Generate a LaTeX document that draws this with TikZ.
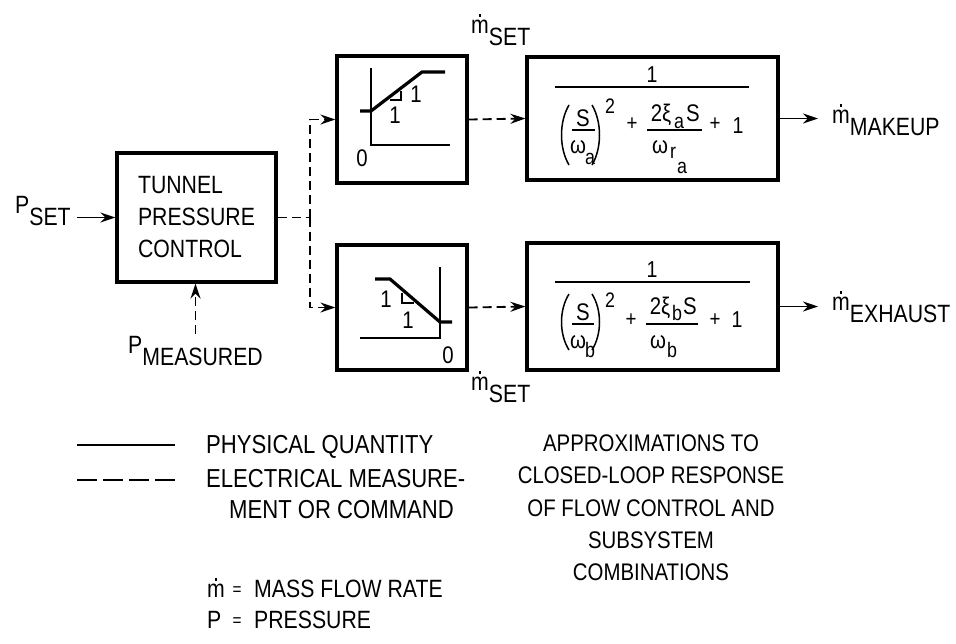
\documentclass[tikz,border=0pt]{standalone}
\usepackage{fontspec}
\setmainfont{Liberation Sans}[FakeStretch=0.85]
\usetikzlibrary{arrows.meta}
\newcommand\lowr[1]{\raisebox{-0.5em}{#1}}
\newcommand\mdot{\ooalign{m\cr\hfil\raisebox{0.64em}{\rule{0.11em}{0.11em}}\hfil\cr}}
\begin{document}
\begin{tikzpicture}[x=1pt,y=-1pt,
  font=\fontsize{24}{30}\selectfont,
  box/.style={draw, line width=3.2pt, inner sep=0pt},
  conn/.style={line width=1.8pt, -{Stealth[length=15pt,width=10pt]}},
  dsh/.style={dash pattern=on 9pt off 5pt},
  gline/.style={line width=1.6pt},
  ramp/.style={line width=3.2pt},
  lbl/.style={inner sep=0pt, anchor=base west, font=\fontsize{25}{30}\selectfont},
  fb/.style={line width=1.5pt},
  fs/.style={inner sep=0pt, anchor=base, font=\fontsize{24}{24}\selectfont},
  fsub/.style={inner sep=0pt, anchor=base, font=\fontsize{21}{21}\selectfont},
  fone/.style={inner sep=0pt, anchor=base, font=\fontsize{23}{23}\selectfont\rmfamily},
  fplus/.style={inner sep=0pt, anchor=center, font=\fontsize{22}{22}\selectfont},
  eqs/.style={inner sep=0pt, anchor=base, font=\fontsize{18}{18}\selectfont},
  leg/.style={inner sep=0pt, anchor=base west, font=\fontsize{26}{30}\selectfont}]
\useasboundingbox (0,0) rectangle (956,643);
\fill[white] (0,0) rectangle (956,643);

% blocks
\node[box, minimum width=159pt, minimum height=129pt, align=left,
      font=\fontsize{25}{32}\selectfont] (tpc) at (196.5,217.5) {TUNNEL\\PRESSURE\\CONTROL};
\node[box, minimum width=130pt, minimum height=127pt] (s1) at (402,119.5) {};
\node[box, minimum width=130pt, minimum height=125pt] (s2) at (402,307.5) {};
\node[box, minimum width=251pt, minimum height=123pt] (b1) at (652.5,118.5) {};
\node[box, minimum width=251pt, minimum height=127pt] (b2) at (652.5,306.5) {};

% formula a (bar at y=87)
\begin{scope}[shift={(0,87)}]
  \node[fone] (fa1) at (652,-5) {1};
  \draw[fb] (555,0) -- (749,0);
  \draw[fb] (569,18) .. controls (559,35) and (559,61) .. (569,78);
  \draw[fb] (592,18) .. controls (602,35) and (602,61) .. (592,78);
  \node[fs] (fa2) at (583,39) {S};
  \draw[fb] (572,43) -- (595,43);
  \node[fs] (fa3) at (578,66) {ω};
  \node[fsub] (fa4) at (590,77) {a};
  \node[fsub] (fa5) at (610,26) {2};
  \node[fplus] (fa6) at (632,37) {+};
  \node[fs] (fa7) at (661,34) {2ξ};
  \node[fsub] (fa8) at (679,41) {a};
  \node[fs] (fa9) at (693,34) {S};
  \draw[fb] (647,43) -- (702,43);
  \node[fs] (fa10) at (660,66) {ω};
  \node[fsub] (fa11) at (673,71) {r};
  \node[fsub] (fa12) at (682,86) {a};
  \node[fplus] (fa13) at (715,37) {+};
  \node[fone] (fa14) at (738,46) {1};
\end{scope}

% formula b (bar at y=282)
\begin{scope}[shift={(0,282)}]
  \node[fone] (fb1) at (652,-5) {1};
  \draw[fb] (555,0) -- (750,0);
  \draw[fb] (569,12) .. controls (559,28) and (559,52) .. (569,68);
  \draw[fb] (592,12) .. controls (602,28) and (602,52) .. (592,68);
  \node[fs] (fb2) at (583,38) {S};
  \draw[fb] (572,42) -- (594,42);
  \node[fs] (fb3) at (578,66) {ω};
  \node[fsub] (fb4) at (590,75) {b};
  \node[fsub] (fb5) at (610,25) {2};
  \node[fplus] (fb6) at (631,38) {+};
  \node[fs] (fb7) at (660,32) {2ξ};
  \node[fsub] (fb8) at (677,38) {b};
  \node[fs] (fb9) at (690,32) {S};
  \draw[fb] (646,42) -- (698,42);
  \node[fs] (fb10) at (658,66) {ω};
  \node[fsub] (fb11) at (672,75) {b};
  \node[fplus] (fb12) at (715,38) {+};
  \node[fone] (fb13) at (737,45) {1};
\end{scope}

% graph 1 (rising)
\draw[gline] (371,68) -- (371,145) -- (450,145);
\draw[ramp] (360,111) -- (371,111) -- (422,72) -- (445,72);
\draw[gline] (390,100) -- (401,100) -- (401,91);
\node[inner sep=0pt, font=\fontsize{24}{24}\selectfont\rmfamily] (g1a) at (416,94) {1};
\node[inner sep=0pt, font=\fontsize{24}{24}\selectfont\rmfamily] (g1b) at (395,115) {1};
\node[inner sep=0pt] (g1z) at (362,158) {0};

% graph 2 (falling)
\draw[gline] (440,267) -- (440,338) -- (360,338);
\draw[ramp] (375,279) -- (390,279) -- (440,322) -- (452,322);
\draw[gline] (402,293) -- (402,303) -- (414,303);
\node[inner sep=0pt, font=\fontsize{24}{24}\selectfont\rmfamily] (g2a) at (386,299) {1};
\node[inner sep=0pt, font=\fontsize{24}{24}\selectfont\rmfamily] (g2b) at (408,320) {1};
\node[inner sep=0pt] (g2z) at (448,355) {0};

% labels
\node[lbl] (pset) at (15,213) {P\lowr{SET}};
\node[lbl] (pm) at (128,353) {P\lowr{MEASURED}};
\node[lbl] (ms1) at (471,33) {\mdot\lowr{SET}};
\node[lbl] (ms2) at (471,390) {\mdot\lowr{SET}};
\node[lbl] (mk) at (832,123) {\mdot\lowr{MAKEUP}};
\node[lbl] (ex) at (832,310) {\mdot\lowr{EXHAUST}};

% connectors
\draw[conn, shorten <=6pt] (pset.east |- tpc.west) -- (tpc.west);
\draw[conn, dsh, shorten <=2pt] (pm.north) -- (pm.north |- tpc.south);
\coordinate (J) at (310,217.5);
\draw[line width=1.8pt, dsh] (tpc.east) -- (J);
\draw[conn, dsh] (J) |- (s1.west);
\draw[conn, dsh] (J) |- (s2.west);
\draw[conn, dsh] (s1.east) -- (b1.west);
\draw[conn, dsh] (s2.east) -- (b2.west);
\draw[conn, shorten >=14pt] (b1.east) -- (mk.west |- b1.east);
\draw[conn, shorten >=14pt] (b2.east) -- (ex.west |- b2.east);

% legend
\draw[line width=1.8pt] (77,445) -- (175,445);
\draw[line width=1.8pt, dash pattern=on 20pt off 6pt] (77,480) -- (175,480);
\node[leg] (l1) at (206,453) {PHYSICAL QUANTITY};
\node[leg] (l2) at (206,487) {ELECTRICAL MEASURE-};
\node[leg] (l3) at (229,518) {MENT OR COMMAND};
\node[lbl] (l4a) at (207,597) {\mdot};
\node[eqs] (l4b) at (237,595) {=};
\node[lbl] (l4c) at (254,597) {MASS FLOW RATE};
\node[lbl] (l5a) at (207,628) {P};
\node[eqs] (l5b) at (237,626) {=};
\node[lbl] (l5c) at (254,628) {PRESSURE};
\node[align=center, inner sep=0pt, font=\fontsize{24}{32.3}\selectfont] (note) at (651,508)
  {APPROXIMATIONS TO\\CLOSED-LOOP RESPONSE\\OF FLOW CONTROL AND\\SUBSYSTEM\\COMBINATIONS};
\end{tikzpicture}
\end{document}
